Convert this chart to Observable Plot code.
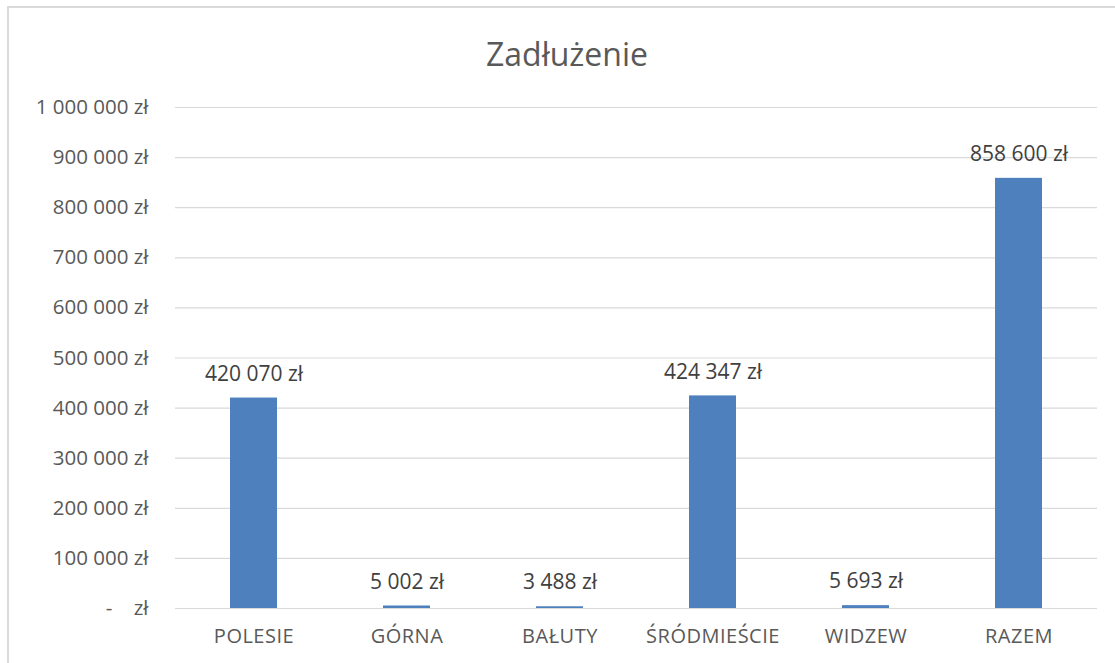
<!DOCTYPE html>
<html>
<head>
<meta charset="utf-8">
<script src="https://cdn.jsdelivr.net/npm/d3@7"></script>
<script src="https://cdn.jsdelivr.net/npm/@observablehq/plot@0.6"></script>
<style>
  html, body { margin: 0; padding: 0; background: #fff; }
  #wrap { position: relative; width: 1115px; height: 663px; overflow: hidden; background: #fff; }
  #frame { position: absolute; left: 7px; top: 6px; width: 1130px; height: 680px; border: 2px solid #d9d9d9; box-sizing: border-box; }
  #title { position: absolute; left: 0; top: 34px; width: 1134px; text-align: center; font-family: "Open Sans", sans-serif; font-size: 32px; color: #595959; line-height: 40px; }
  #chart { position: absolute; left: 0; top: 90px; }
  #chart g[aria-label="x-axis tick label"] text { letter-spacing: 0.5px; }
</style>
</head>
<body>
<div id="wrap">
  <div id="frame"></div>
  <div id="title">Zadłużenie</div>
  <div id="chart"></div>
</div>
<script>
const categories = ["POLESIE", "GÓRNA", "BAŁUTY", "ŚRÓDMIEŚCIE", "WIDZEW", "RAZEM"];
const values = [420070, 5002, 3488, 424347, 5693, 858600];
const yTicks = [0, 100000, 200000, 300000, 400000, 500000, 600000, 700000, 800000, 900000, 1000000];

const data = categories.map((c, i) => ({category: c, value: values[i]}));
const grp = d3.format(",d");
const fmtZl = v => v === 0 ? "-\u00a0\u00a0\u00a0\u00a0zł" : grp(v).replace(/,/g, "\u00a0") + " zł";

const plot = Plot.plot({
  width: 1115,
  height: 573,
  marginTop: 17,
  marginBottom: 55,
  marginLeft: 175,
  marginRight: 18,
  style: {fontSize: "20px", fontFamily: "'Open Sans', sans-serif", color: "#595959", background: "transparent"},
  x: {domain: categories, paddingInner: 0.694, paddingOuter: 0.347, label: null},
  y: {domain: [0, 1000000], label: null},
  marks: [
    Plot.ruleY(yTicks, {stroke: "#d9d9d9", strokeWidth: 1.2, strokeOpacity: 1}),
    Plot.barY(data, {x: "category", y: "value", fill: "#4e80bd"}),
    Plot.text(data, {x: "category", y: "value", text: d => fmtZl(d.value), dy: -24, fill: "#404040", fontSize: 21}),
    Plot.axisY({ticks: yTicks, tickSize: 0, tickPadding: 27, tickFormat: fmtZl, fill: "#595959", fontSize: 20.5, label: null}),
    Plot.axisX({tickSize: 0, tickPadding: 20, fill: "#595959", fontSize: 20, label: null})
  ]
});
document.getElementById("chart").appendChild(plot);
</script>
</body>
</html>
